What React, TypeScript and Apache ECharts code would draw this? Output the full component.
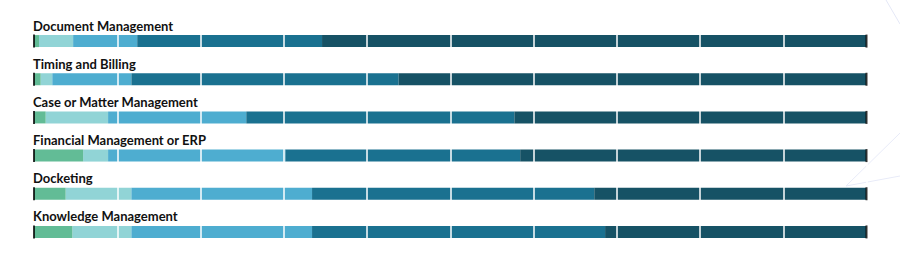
import React, { useEffect, useRef } from "react";
import * as echarts from "echarts";

const categories = [
  "Document Management",
  "Timing and Billing",
  "Case or Matter Management",
  "Financial Management or ERP",
  "Docketing",
  "Knowledge Management",
];
const segmentNames = ["Level 1", "Level 2", "Level 3", "Level 4", "Level 5"];
const green = [0.6, 0.8, 1.4, 5.9, 3.8, 4.6];
const lightTeal = [4.1, 1.4, 7.5, 3.0, 7.9, 7.1];
const lightBlue = [7.7, 9.5, 16.6, 21.3, 21.7, 21.7];
const midTeal = [22.2, 32.1, 32.2, 28.2, 33.9, 35.2];
const darkTeal = [65.4, 56.2, 42.3, 41.6, 32.7, 31.4];
const axisMin = 0;
const axisMax = 100;
const axisInterval = 10;

const colors = ["#62bc96", "#91d4d6", "#4eadd0", "#1a7190", "#165265"];

export default function App() {
  const ref = useRef<HTMLDivElement>(null);
  useEffect(() => {
    document.body.style.margin = "0";
    if (!ref.current) return;
    const chart = echarts.init(ref.current, null, { renderer: "svg" });
    const values = [green, lightTeal, lightBlue, midTeal, darkTeal];
    const barSeries = values.map((arr, i) => ({
      name: segmentNames[i],
      type: "bar",
      stack: "total",
      barWidth: 12,
      z: i === 0 ? 20 : 2,
      itemStyle: { color: colors[i] },
      label:
        i === 0
          ? {
              show: true,
              position: [-1, -3],
              align: "left",
              verticalAlign: "bottom",
              formatter: (p: any) => p.name,
              color: "#111111",
              fontFamily: "Lato",
              fontWeight: "bold",
              fontSize: 13,
              lineHeight: 13,
            }
          : { show: false },
      emphasis: { disabled: true },
      data: arr,
    }));
    const tickData: any[] = [];
    categories.forEach((c) => {
      tickData.push([axisMin, c]);
      tickData.push([axisMax, c]);
    });
    chart.setOption({
      animation: false,
      grid: { left: 34, right: 33.5, top: 22, bottom: 5 },
      xAxis: {
        type: "value",
        min: axisMin,
        max: axisMax,
        interval: axisInterval,
        z: 10,
        axisLabel: { show: false },
        axisLine: { show: false },
        axisTick: { show: false },
        splitLine: { show: true, lineStyle: { color: "#ffffff", width: 1.5 } },
      },
      yAxis: {
        type: "category",
        data: categories,
        inverse: true,
        axisLabel: { show: false },
        axisLine: { show: false },
        axisTick: { show: false },
        splitLine: { show: false },
      },
      graphic: [
        {
          type: "polyline",
          silent: true,
          shape: { points: [[886, 0], [900, 24]] },
          style: { stroke: "#e4e8f6", lineWidth: 1, fill: null },
        },
        {
          type: "polyline",
          silent: true,
          shape: { points: [[900, 133], [846, 186], [900, 176]] },
          style: { stroke: "#e8ebf8", lineWidth: 1, fill: null },
        },
      ],
      series: [
        ...barSeries,
        {
          type: "scatter",
          z: 21,
          symbol: "rect",
          symbolSize: [2, 13],
          itemStyle: { color: "#000000" },
          emphasis: { disabled: true },
          data: tickData,
        },
      ],
    });
    return () => chart.dispose();
  }, []);
  return <div ref={ref} style={{ width: 900, height: 256 }} />;
}
